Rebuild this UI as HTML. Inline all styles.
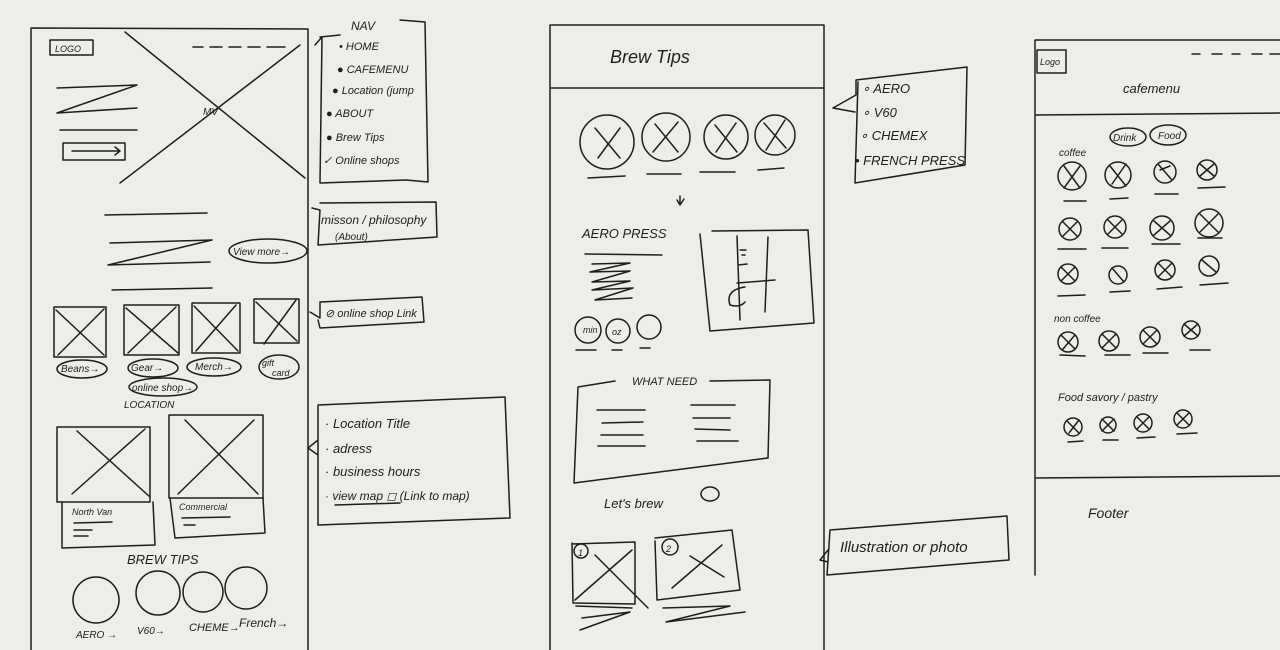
<!DOCTYPE html>
<html><head><meta charset="utf-8"><style>
html,body{margin:0;padding:0;background:#efede9;}
svg{display:block}
text{font-family:"Liberation Sans",sans-serif;fill:#1e1e1e;font-style:italic}
</style></head><body>
<svg width="1280" height="650" viewBox="0 0 1280 650" xmlns="http://www.w3.org/2000/svg">
<rect width="1280" height="650" fill="#efede9"/>
<g fill="none" stroke="#1e1e1e" stroke-width="1.5" stroke-linecap="round" stroke-linejoin="round">
<!-- PANEL 1 -->
<path d="M31 650 L31 28 L308 29 L308 650"/>
<rect x="50" y="40" width="43" height="15"/>
<path d="M193 47 L203 47 M210 47 L222 47 M229 47 L241 47 M248 47 L260 47 M267 47 L285 47"/>
<path d="M125 32 L305 178 M120 183 L300 45"/>
<path d="M57 88 L137 85 L57 113 L137 108 M60 130 L137 130"/>
<rect x="63" y="143" width="62" height="17"/>
<path d="M72 151 L120 151 M115 147 L120 151 L115 155"/>
<path d="M105 215 L207 213 M110 243 L212 240 L108 265 L210 262 M112 290 L212 288"/>
<ellipse cx="268" cy="251" rx="39" ry="12"/>
<rect x="54" y="307" width="52" height="50"/><path d="M56 310 L104 355 M104 309 L58 355"/>
<rect x="124" y="305" width="55" height="50"/><path d="M126 308 L178 353 M176 307 L128 353"/>
<rect x="192" y="303" width="48" height="50"/><path d="M194 306 L238 351 M236 305 L196 351"/>
<rect x="254" y="299" width="45" height="44"/><path d="M256 302 L297 341 M296 300 L264 344"/>
<ellipse cx="82" cy="369" rx="25" ry="9"/>
<ellipse cx="153" cy="368" rx="25" ry="9"/>
<ellipse cx="214" cy="367" rx="27" ry="9"/>
<ellipse cx="279" cy="367" rx="20" ry="12"/>
<ellipse cx="163" cy="387" rx="34" ry="9"/>
<rect x="57" y="427" width="93" height="75"/><path d="M77 431 L150 497 M145 429 L72 494"/>
<path d="M62 502 L62 548 L155 545 L153 502"/>
<path d="M74 523 L112 522 M74 530 L92 530 M74 536 L88 536"/>
<rect x="169" y="415" width="94" height="83"/><path d="M185 420 L258 494 M254 420 L178 494"/>
<path d="M170 498 L175 538 L265 533 L263 498"/>
<path d="M182 518 L230 517 M184 525 L195 525"/>
<circle cx="96" cy="600" r="23"/>
<circle cx="158" cy="593" r="22"/>
<circle cx="203" cy="592" r="20"/>
<circle cx="246" cy="588" r="21"/>
<!-- nav box -->
<path d="M322 37 L320 183 L406 180 L428 182 L425 22 L400 20 M322 37 L315 45 M320 37 L340 35"/>
<path d="M312 208 L320 210 L318 245 L437 237 L436 202 L320 203"/>
<path d="M318 320 L320 328 L424 322 L422 297 L320 302 L320 318 L310 312"/>
<path d="M318 405 L318 525 L510 518 L505 397 L318 405 M318 440 L308 448 L318 455"/>
<path d="M335 505 L400 503"/>
<!-- PANEL 2 -->
<path d="M550 650 L550 25 L824 25 L824 650 M550 88 L824 88"/>
<circle cx="607" cy="142" r="27"/><path d="M595 128 L620 158 M620 128 L598 158"/>
<circle cx="666" cy="137" r="24"/><path d="M655 124 L678 152 M678 122 L653 152"/>
<circle cx="726" cy="137" r="22"/><path d="M715 125 L737 152 M736 123 L716 152"/>
<circle cx="775" cy="135" r="20"/><path d="M764 123 L786 148 M785 120 L766 150"/>
<path d="M588 178 L625 176 M647 174 L681 174 M700 172 L735 172 M758 170 L784 168"/>
<path d="M680 196 L680 205 M677 200 L680 205 L684 199"/>
<path d="M585 254 L662 255 M592 264 L630 263 L590 272 L630 271 L592 282 L630 281 L592 290 L633 288 L595 300 L632 298"/>
<circle cx="588" cy="330" r="13"/><circle cx="618" cy="331" r="12"/><circle cx="649" cy="327" r="12"/>
<path d="M576 350 L596 350 M612 350 L622 350 M640 348 L650 348"/>
<path d="M700 234 L710 331 L814 323 L808 230 L712 231"/>
<path d="M737 236 L740 320 M768 237 L765 312 M737 283 L775 280 M738 265 L747 264 M740 250 L746 250 M742 255 L745 255"/>
<path d="M745 287 Q725 290 730 305 Q740 308 745 302"/>
<path d="M615 381 L578 387 L574 483 L768 458 L770 380 L710 381"/>
<path d="M597 410 L645 410 M602 423 L643 422 M601 435 L643 435 M598 446 L645 446 M691 405 L735 405 M693 418 L730 418 M695 429 L730 430 M697 441 L738 441"/>
<ellipse cx="710" cy="494" rx="9" ry="7"/>
<path d="M572 543 L573 603 L635 604 L635 542 L572 544 M575 600 L632 550 M595 555 L648 608"/>
<circle cx="581" cy="551" r="7"/>
<path d="M655 541 L657 600 L740 590 L732 530 L655 538 M672 588 L722 545 M690 556 L724 577"/>
<circle cx="670" cy="547" r="8"/>
<path d="M576 606 L632 608 M582 618 L630 612 L580 630 M663 608 L730 606 L666 622 L745 612"/>
<!-- nav box 2 -->
<path d="M858 82 L855 183 L965 165 L967 67 L856 80 L856 95 L833 108 L855 112"/>
<!-- illustration box -->
<path d="M830 530 L827 575 L1009 560 L1007 516 L830 530 M828 550 L820 560 L828 562"/>
<!-- PANEL 3 -->
<path d="M1035 575 L1035 40 L1280 40 M1035 115 L1280 113 M1035 478 L1280 476"/>
<rect x="1037" y="50" width="29" height="23"/>
<path d="M1192 54 L1200 54 M1212 54 L1222 54 M1232 54 L1240 54 M1252 54 L1262 54 M1270 54 L1280 54"/>
<ellipse cx="1128" cy="137" rx="18" ry="9"/><ellipse cx="1168" cy="135" rx="18" ry="10"/>
<circle cx="1072" cy="176" r="14"/><path d="M1064 166 L1080 188 M1080 166 L1064 188"/>
<circle cx="1118" cy="175" r="13"/><path d="M1110 166 L1126 186 M1126 164 L1112 184"/>
<circle cx="1165" cy="172" r="11"/><path d="M1158 164 L1172 180 M1170 166 L1160 170"/>
<circle cx="1207" cy="170" r="10"/><path d="M1200 164 L1214 176 M1214 164 L1200 176"/>
<path d="M1064 201 L1086 201 M1110 199 L1128 198 M1155 194 L1178 194 M1198 188 L1225 187"/>
<circle cx="1070" cy="229" r="11"/><circle cx="1115" cy="227" r="11"/><circle cx="1162" cy="228" r="12"/><circle cx="1209" cy="223" r="14"/>
<path d="M1063 222 L1077 236 M1077 222 L1063 236 M1108 220 L1122 234 M1122 220 L1108 234 M1154 221 L1170 235 M1170 221 L1154 235 M1200 214 L1218 232 M1218 214 L1200 232"/>
<path d="M1058 249 L1086 249 M1102 248 L1128 248 M1152 244 L1180 244 M1198 238 L1222 238"/>
<circle cx="1068" cy="274" r="10"/><circle cx="1118" cy="275" r="9"/><circle cx="1165" cy="270" r="10"/><circle cx="1209" cy="266" r="10"/>
<path d="M1061 267 L1075 281 M1075 267 L1061 281 M1112 268 L1124 282 M1158 263 L1172 277 M1172 263 L1158 277 M1202 260 L1216 272"/>
<path d="M1058 296 L1085 295 M1110 292 L1130 291 M1157 289 L1182 287 M1200 285 L1228 283"/>
<circle cx="1068" cy="342" r="10"/><circle cx="1109" cy="341" r="10"/><circle cx="1150" cy="337" r="10"/><circle cx="1191" cy="330" r="9"/>
<path d="M1061 335 L1075 349 M1075 335 L1063 349 M1102 334 L1116 348 M1116 334 L1102 348 M1143 330 L1157 344 M1157 330 L1143 344 M1184 324 L1198 336 M1198 324 L1184 336"/>
<path d="M1060 355 L1085 356 M1105 355 L1130 355 M1143 353 L1168 353 M1190 350 L1210 350"/>
<circle cx="1073" cy="427" r="9"/><circle cx="1108" cy="425" r="8"/><circle cx="1143" cy="423" r="9"/><circle cx="1183" cy="419" r="9"/>
<path d="M1067 421 L1079 433 M1079 420 L1069 433 M1102 419 L1114 431 M1114 419 L1102 431 M1137 417 L1149 429 M1149 417 L1137 429 M1177 413 L1189 425 M1189 413 L1177 425"/>
<path d="M1068 442 L1083 441 M1103 440 L1118 440 M1137 438 L1155 437 M1177 434 L1197 433"/>
</g>
<!-- TEXT -->
<g font-size="10">
<text x="55" y="52" font-size="9">LOGO</text>
<text x="203" y="115" font-size="10">MV</text>
<text x="233" y="255" font-size="10">View more→</text>
<text x="61" y="372" font-size="10">Beans→</text>
<text x="131" y="371" font-size="10">Gear→</text>
<text x="195" y="370" font-size="10">Merch→</text>
<text x="262" y="366" font-size="9">gift</text>
<text x="272" y="376" font-size="9">card</text>
<text x="132" y="391" font-size="10">online shop→</text>
<text x="124" y="408" font-size="10">LOCATION</text>
<text x="72" y="515" font-size="9">North Van</text>
<text x="179" y="510" font-size="9">Commercial</text>
<text x="127" y="564" font-size="13">BREW TIPS</text>
<text x="76" y="638" font-size="10">AERO →</text>
<text x="137" y="634" font-size="10">V60→</text>
<text x="189" y="631" font-size="11">CHEME→</text>
<text x="239" y="627" font-size="12">French→</text>
<text x="351" y="30" font-size="12">NAV</text>
<text x="339" y="50" font-size="11">• HOME</text>
<text x="337" y="73" font-size="11">● CAFEMENU</text>
<text x="332" y="94" font-size="11">● Location (jump</text>
<text x="326" y="117" font-size="11">● ABOUT</text>
<text x="326" y="141" font-size="11">● Brew Tips</text>
<text x="323" y="164" font-size="11">✓ Online shops</text>
<text x="321" y="224" font-size="12">misson / philosophy</text>
<text x="335" y="240" font-size="10">(About)</text>
<text x="325" y="317" font-size="11">⊘ online shop Link</text>
<text x="325" y="428" font-size="13">· Location Title</text>
<text x="325" y="453" font-size="13">· adress</text>
<text x="325" y="476" font-size="13">· business hours</text>
<text x="325" y="500" font-size="12">· view map ◻ (Link to map)</text>
<text x="610" y="63" font-size="18">Brew Tips</text>
<text x="582" y="238" font-size="13">AERO PRESS</text>
<text x="583" y="333" font-size="9">min</text>
<text x="612" y="335" font-size="9">oz</text>
<text x="632" y="385" font-size="11">WHAT NEED</text>
<text x="604" y="508" font-size="13">Let's brew</text>
<text x="578" y="556" font-size="9">1</text>
<text x="666" y="552" font-size="9">2</text>
<text x="862" y="93" font-size="13">∘ AERO</text>
<text x="862" y="117" font-size="13">∘ V60</text>
<text x="860" y="140" font-size="13">∘ CHEMEX</text>
<text x="855" y="165" font-size="13">• FRENCH PRESS</text>
<text x="840" y="552" font-size="15">Illustration or photo</text>
<text x="1040" y="65" font-size="9">Logo</text>
<text x="1123" y="93" font-size="13">cafemenu</text>
<text x="1113" y="141" font-size="10">Drink</text>
<text x="1158" y="139" font-size="10">Food</text>
<text x="1059" y="156" font-size="10">coffee</text>
<text x="1054" y="322" font-size="10">non coffee</text>
<text x="1058" y="401" font-size="11">Food savory / pastry</text>
<text x="1088" y="518" font-size="14">Footer</text>
</g>
</svg>
</body></html>
